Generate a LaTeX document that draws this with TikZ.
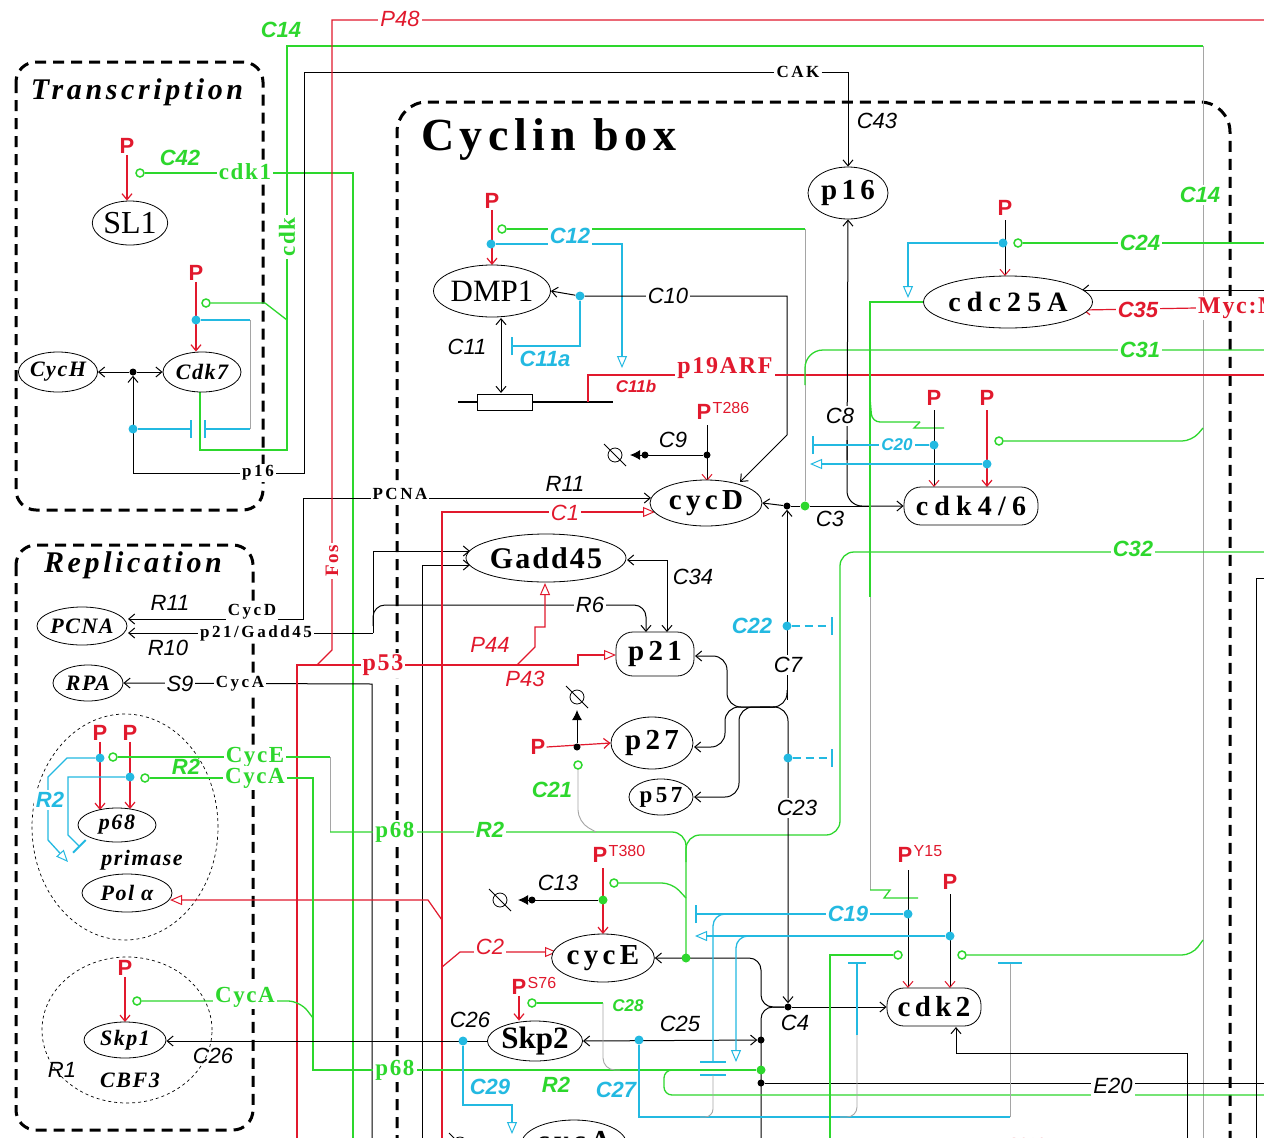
\documentclass[tikz,border=0pt]{standalone}
\usepackage{fontspec}
\setmainfont{Liberation Serif}
\newfontfamily\arial{Liberation Sans}
\newfontfamily\spc[LetterSpace=15]{Liberation Serif}
\newfontfamily\spcw[LetterSpace=22]{Liberation Serif}
\newfontfamily\spct[LetterSpace=12]{Liberation Serif}
\newfontfamily\spcs[LetterSpace=7]{Liberation Serif}
\usetikzlibrary{arrows.meta,shapes.geometric}
\pgfdeclarelayer{back}
\pgfdeclarelayer{wires}
\pgfsetlayers{back,wires,main}
\definecolor{mred}{RGB}{225,25,45}
\definecolor{mgreen}{RGB}{45,215,45}
\definecolor{mcyan}{RGB}{35,185,225}
\definecolor{mgray}{RGB}{165,165,165}
\newcommand\mydeg[2]{\draw[line width=0.8pt] (#1,#2) circle[radius=7pt] (#1-11,#2-11) -- (#1+11,#2+11);}
\newcommand\psup[4]{\node[pp] (#1) at (#2,#3) {P};\node[text=mred,font=\arial\fontsize{16}{16}\selectfont,anchor=north west,inner sep=0pt] (#1s) at ([yshift=1pt]#1.north east) {#4};}
\tikzset{
  ell/.style={draw,ellipse,line width=0.8pt,inner sep=0pt,fill=white},
  rr/.style={draw,rounded corners=17pt,line width=0.8pt,inner sep=0pt,fill=white},
  bl/.style={black,line width=1pt},
  rd/.style={mred,line width=1.2pt},
  gr/.style={mgreen,line width=1.3pt},
  cy/.style={mcyan,line width=1.3pt},
  gy/.style={mgray,line width=0.9pt},
  act/.style={-{Straight Barb[length=6pt,width=10pt]}},
  dact/.style={{Straight Barb[length=6pt,width=10pt]}-{Straight Barb[length=6pt,width=10pt]}},
  pk/.style={black,line width=1pt,-{Straight Barb[length=6pt,width=10pt,color=mred]}},
  tri/.style={-{Triangle[open,length=12pt,width=10pt,line width=1pt,fill=white]}},
  inh/.style={-{Bar[width=18pt,line width=1.8pt]}},
  cdot/.style={circle,fill=mcyan,inner sep=0pt,minimum size=9pt},
  kdot/.style={circle,fill=black,inner sep=0pt,minimum size=7pt},
  gdot/.style={circle,fill=mgreen,inner sep=0pt,minimum size=9pt},
  gc/.style={circle,draw=mgreen,line width=1.5pt,fill=white,inner sep=0pt,minimum size=8pt},
  lk/.style={font=\arial\itshape\fontsize{22}{22}\selectfont,fill=white,inner sep=2pt},
  lg/.style={text=mgreen,font=\arial\bfseries\itshape\fontsize{22}{22}\selectfont,fill=white,inner sep=2pt},
  lc/.style={text=mcyan,font=\arial\bfseries\itshape\fontsize{22}{22}\selectfont,fill=white,inner sep=2pt},
  lr/.style={text=mred,font=\arial\itshape\fontsize{22}{22}\selectfont,fill=white,inner sep=2pt},
  lrb/.style={text=mred,font=\arial\bfseries\itshape\fontsize{22}{22}\selectfont,fill=white,inner sep=2pt},
  pp/.style={text=mred,font=\arial\bfseries\fontsize{22}{22}\selectfont,inner sep=1pt},
  sk/.style={font=\spc\bfseries\fontsize{17}{17}\selectfont,fill=white,inner sep=2pt},
  sg/.style={text=mgreen,font=\spcs\bfseries\fontsize{23}{23}\selectfont,fill=white,inner sep=2pt},
  sr/.style={text=mred,font=\spcs\bfseries\fontsize{24}{24}\selectfont,fill=white,inner sep=2pt},
  nd/.style={font=\spc\bfseries\fontsize{29}{29}\selectfont},
  ni/.style={font=\spcs\bfseries\itshape\fontsize{22}{22}\selectfont},
  zone/.style={line width=3pt,dash pattern=on 11pt off 7pt,rounded corners=20pt}
}
\begin{document}
\begin{tikzpicture}[x=1pt,y=-1pt]
\useasboundingbox (0,0) rectangle (1264,1138);
\begin{pgfonlayer}{back}
\fill[white] (0,0) rectangle (1264,1138);
\end{pgfonlayer}
\begin{scope}
\clip (0,0) rectangle (1264,1138);
% titles
\node[font=\spct\bfseries\itshape\fontsize{30}{30}\selectfont] (tTr) at (137,92) {Transcription};
\node[font=\spct\bfseries\itshape\fontsize{30}{30}\selectfont] (tRe) at (133,565) {Replication};
\node[font=\spct\bfseries\fontsize{46}{46}\selectfont,anchor=west,inner sep=0pt] (tCB) at (421,140) {Cyclin box};
% entities
\node[ell,minimum width=74pt,minimum height=44pt,font=\fontsize{32}{32}\selectfont] (SL1) at (130,223) {SL1};
\node[ell,ni,minimum width=72pt,minimum height=40pt] (CycH) at (58,372) {CycH};
\node[ell,ni,minimum width=78pt,minimum height=40pt] (Cdk7) at (202,372) {Cdk7};
\node[ell,ni,minimum width=90pt,minimum height=38pt] (PCNA) at (82,626) {PCNA};
\node[ell,ni,minimum width=70pt,minimum height=36pt] (RPA) at (88,683) {RPA};
\node[ell,ni,minimum width=78pt,minimum height=34pt] (p68) at (117,825) {p68};
\node[ni] (primase) at (142,860) {primase};
\node[ell,ni,minimum width=90pt,minimum height=38pt] (Pola) at (127,893) {Pol α};
\node[ell,ni,minimum width=82pt,minimum height=36pt] (Skp1) at (125,1040) {Skp1};
\node[ni] (CBF3) at (130,1080) {CBF3};
\node[ell,nd,minimum width=80pt,minimum height=52pt] (p16) at (848,193) {p16};
\node[ell,minimum width=114pt,minimum height=52pt,font=\fontsize{31}{31}\selectfont] (DMP1) at (492,291) {DMP1};
\node[ell,font=\spcw\bfseries\fontsize{28}{28}\selectfont,minimum width=144pt,minimum height=52pt] (cdc) at (1008,302) {cdc25A};
\node[ell,nd,minimum width=112pt,minimum height=46pt] (cycD) at (706,503) {cycD};
\node[rr,font=\spcw\bfseries\fontsize{28}{28}\selectfont,minimum width=134pt,minimum height=38pt] (cdk46) at (971,506) {cdk4/6};
\node[ell,font=\spcs\bfseries\fontsize{30}{30}\selectfont,minimum width=160pt,minimum height=48pt] (Gadd45) at (546,558) {Gadd45};
\node[rr,nd,minimum width=78pt,minimum height=44pt] (p21) at (655,654) {p21};
\node[ell,nd,minimum width=82pt,minimum height=52pt] (p27) at (652,743) {p27};
\node[ell,font=\spc\bfseries\fontsize{23}{23}\selectfont,minimum width=64pt,minimum height=36pt] (p57) at (661,797) {p57};
\node[ell,nd,minimum width=96pt,minimum height=48pt] (cycE) at (603,958) {cycE};
\node[ell,font=\bfseries\fontsize{31}{31}\selectfont,minimum width=84pt,minimum height=40pt] (Skp2) at (535,1041) {Skp2};
\node[rr,nd,minimum width=94pt,minimum height=38pt] (cdk2) at (934,1007) {cdk2};
\node[ell,nd,minimum width=95pt,minimum height=48pt] (cycA) at (574,1144) {cycA};
% labels
\node[sk] (lCAK) at (798,72) {CAK};
\node[lk,fill=none] (lC43) at (877,121) {C43};
\node[lg,fill=none] (lC14a) at (281,30) {C14};
\node[lg] (lC14b) at (1200,195) {C14};
\node[lr] (lP48) at (400,19) {P48};
\node[lg,fill=none] (lC42) at (180,158) {C42};
\node[sg] (lcdk1) at (245,172) {cdk1};
\node[sg,rotate=90] (lcdk) at (287,237) {cdk};
\node[sk] (lp16) at (258,473) {p16};
\node[sk] (lPCNA) at (400,494) {PCNA};
\node[sk] (lCycD) at (252,612) {CycD};
\node[sk] (lp21G) at (256,633) {p21/Gadd45};
\node[lk,fill=none] (lR11a) at (170,603) {R11};
\node[lk,fill=none] (lR10) at (168,648) {R10};
\node[lk] (lS9) at (180,684) {S9};
\node[sk] (lCycA1) at (240,684) {CycA};
\node[sr,rotate=90,font=\spcs\bfseries\fontsize{19}{19}\selectfont] (lFos) at (332,561) {Fos};
\node[sr] (lp53) at (383,665) {p53};
\node[sg] (lCycE) at (255,757) {CycE};
\node[sg] (lCycA2) at (255,778) {CycA};
\node[lg,fill=none] (lR2a) at (186,767) {R2};
\node[lc] (lR2b) at (50,800) {R2};
\node[sg] (lp68a) at (395,832) {p68};
\node[lg] (lR2c) at (490,830) {R2};
\node[sg] (lCycA3) at (245,997) {CycA};
\node[lk,fill=none] (lR1) at (62,1070) {R1};
\node[lk,fill=none] (lC26a) at (213,1056) {C26};
\node[sg] (lp68b) at (395,1070) {p68};
\node[lc] (lC12) at (570,236) {C12};
\node[lk] (lC10) at (668,296) {C10};
\node[lk,fill=none] (lC11) at (467,347) {C11};
\node[lc,fill=none] (lC11a) at (545,359) {C11a};
\node[lrb,fill=none,font=\arial\bfseries\itshape\fontsize{17}{17}\selectfont] (lC11b) at (636,386) {C11b};
\node[sr] (lp19) at (725,368) {p19ARF};
\node[lk,fill=none] (lC9) at (673,440) {C9};
\node[lk,fill=none] (lR11b) at (565,484) {R11};
\node[lr] (lC1) at (565,513) {C1};
\node[lk,fill=none] (lC34) at (693,577) {C34};
\node[lk] (lR6) at (590,605) {R6};
\node[lr,fill=none] (lP44) at (490,645) {P44};
\node[lr,fill=none] (lP43) at (525,679) {P43};
\node[lk,fill=none] (lC3) at (830,519) {C3};
\node[lk] (lC8) at (840,416) {C8};
\node[lc,fill=none] (lC22) at (752,626) {C22};
\node[lk] (lC7) at (788,665) {C7};
\node[lk] (lC23) at (797,808) {C23};
\node[lg,fill=none] (lC21) at (552,790) {C21};
\node[lk,fill=none] (lC13) at (558,883) {C13};
\node[lr] (lC2) at (490,947) {C2};
\node[lc] (lC19) at (848,914) {C19};
\node[lk,fill=none] (lC4) at (795,1023) {C4};
\node[lk,fill=none] (lC25) at (680,1024) {C25};
\node[lk,fill=none] (lC26b) at (470,1020) {C26};
\node[lg,fill=none,font=\arial\bfseries\itshape\fontsize{17}{17}\selectfont] (lC28) at (628,1006) {C28};
\node[lc,fill=none] (lC29) at (490,1087) {C29};
\node[lg,fill=none] (lR2d) at (556,1085) {R2};
\node[lc,fill=none] (lC27) at (616,1090) {C27};
\node[lk] (lE20) at (1113,1086) {E20};
\node[lg] (lC24) at (1140,243) {C24};
\node[lrb] (lC35) at (1138,310) {C35};
\node[sr,anchor=west] (lMyc) at (1196,308) {Myc:Max};
\node[lg] (lC31) at (1140,350) {C31};
\node[lg] (lC32) at (1133,549) {C32};
\node[lc,font=\arial\bfseries\itshape\fontsize{17}{17}\selectfont] (lC20) at (897,445) {C20};
% phosphates
\node[pp] (pSL1) at (127,146) {P};
\node[pp] (pC7) at (196,273) {P};
\node[pp] (p68a) at (100,733) {P};
\node[pp] (p68b) at (130,733) {P};
\node[pp] (pSk1) at (125,968) {P};
\node[pp] (pDMP) at (492,201) {P};
\psup{pT}{704}{412}{T286}
\node[pp] (pCdc) at (1005,208) {P};
\node[pp] (pK4a) at (934,398) {P};
\node[pp] (pK4b) at (987,398) {P};
\node[pp] (p27P) at (538,747) {P};
\psup{pE}{600}{855}{T380}
\psup{pS}{519}{987}{S76}
\psup{pY}{905}{855}{Y15}
\node[pp] (pK2b) at (950,882) {P};
\node[pp] (pB1) at (935,1148) {P};
\psup{pB2}{1000}{1148}{S216}
% dots
\node[kdot] (jH) at (133,372) {};
\node[cdot] (cC7) at (196,320) {};
\node[gc] (gC7) at (206,303) {};
\node[cdot] (cH) at (133,429) {};
\node[gc] (g42) at (140,173) {};
\node[cdot] (c68a) at (100,758) {};
\node[cdot] (c68b) at (130,777) {};
\node[gc] (g68a) at (113,757) {};
\node[gc] (g68b) at (145,778) {};
\node[gc] (gSk1) at (137,1001) {};
\node[gc] (gDMP) at (502,229) {};
\node[cdot] (cDMP) at (491,244) {};
\node[cdot] (c10) at (580,296) {};
\node[kdot] (j9) at (707,455) {};
\node[kdot] (k9) at (645,455) {};
\node[kdot] (jD) at (787,506) {};
\node[gdot] (gD) at (805,506) {};
\node[cdot] (c22) at (787,626) {};
\node[cdot] (c23) at (788,758) {};
\node[cdot] (cCdc) at (1003,243) {};
\node[gc] (gCdc) at (1018,243) {};
\node[cdot] (cK4a) at (934,445) {};
\node[cdot] (cK4b) at (987,464) {};
\node[gc] (gK4) at (999,441) {};
\node[kdot] (j27) at (577,747) {};
\node[gc] (g21) at (578,765) {};
\node[gdot] (gE) at (603,900) {};
\node[gc] (gEc) at (614,883) {};
\node[kdot] (k13) at (532,900) {};
\node[gdot] (gE2) at (686,958) {};
\node[kdot] (jC4) at (788,1007) {};
\node[kdot] (jS) at (761,1040) {};
\node[gdot] (gS) at (761,1070) {};
\node[kdot] (jE) at (761,1083) {};
\node[cdot] (c26) at (463,1041) {};
\node[cdot] (c25) at (639,1040) {};
\node[gc] (gSk2) at (532,1003) {};
\node[cdot] (c19) at (908,914) {};
\node[cdot] (cK2b) at (950,936) {};
\node[gc] (gK2a) at (898,955) {};
\node[gc] (gK2b) at (962,955) {};
\mydeg{615}{455}
\mydeg{500}{900}
\mydeg{577}{697}
\mydeg{460}{1144}
\end{scope}
\begin{pgfonlayer}{wires}
\clip (0,0) rectangle (1264,1138);
% compartments
\draw[zone] (16,62) rectangle (263,510);
\draw[zone] (16,545) rectangle (253,1130);
\draw[zone,rounded corners=30pt] (397,1200) -- (397,102) -- (1230,102) -- (1230,1200);
\draw[dashed,line width=0.7pt] (125,827) ellipse[x radius=93pt,y radius=113pt];
\draw[dashed,line width=0.7pt] (127,1030) ellipse[x radius=85pt,y radius=73pt];
% transcription
\draw[rd,act] (pSL1.south) -- (pSL1.south |- SL1.north);
\draw[gr] (g42) -- (353,173) -- (353,1140);
\draw[bl,act] (jH) -- (CycH);
\draw[bl,act] (jH) -- (Cdk7);
\draw[rd,act] (pC7.south) -- (pC7.south |- Cdk7.north);
\draw[gr] (gC7) -- (265,303) -- (287,320);
\draw[cy] (cC7) -- (250,320);
\draw[gy] (250,320) -- (250,429);
\draw[cy,inh] (250,429) -- (204,429);
\draw[cy,inh] (cH) -- (192,429);
\draw[gr] (200,391) -- (200,450) -- (287,450) -- (287,46) -- (1203,46);
\draw[gy] (1203,46) -- (1203,1140);
\draw[bl,act] (lp16) -- (133,473) -- (jH);
\draw[bl] (lp16) -- (304,473) -- (304,72) -- (lCAK);
\draw[bl,act] (lCAK) -| (p16.north);
% replication
\draw[bl,dact] (128,619) -- (303,619) -- (303,498) -- (651,498);
\draw[bl,act] (373,633) -- (128,633);
\draw[bl,act] (373,633) -- (373,551) -- (470,551);
\draw[bl,act,rounded corners=12pt] (373,626) -- (373,605) -- (646,605) -- (646,632);
\draw[bl,act] (422,1140) -- (422,565) -- (470,565);
\draw[bl,dact] (627,560) -- (667,560) -- (667,632);
\draw[bl,act] (372,1140) -- (372,684) -- (RPA.east);
\draw[rd] (1264,20) -- (332,20) -- (332,650) -- (317,665);
\draw[rd,tri] (297,1140) -- (297,665) -- (578,665) -- (578,655) -- (616,655);
\draw[rd,tri] (517,665) -- (535,647) -- (535,627) -- (545,627) -- (545,583);
\draw[rd,tri] (442,920) -- (428,900) -- (170,900);
\draw[rd,tri] (442,1140) -- (442,512) -- (655,512);
\draw[rd,tri] (442,967) -- (460,952) -- (557,952);
\draw[rd,act] (p68a.south) -- (100,810);
\draw[rd,act] (p68b.south) -- (130,809);
\draw[gr] (g68a) -- (330,757);
\draw[gy] (330,757) -- (330,832);
\draw[gr,rounded corners=14pt] (330,832) -- (686,832) -- (686,958);
\draw[gr,rounded corners=14pt] (686,862) -- (686,835) -- (840,835) -- (840,552) -- (1264,552);
\draw[gr] (g68b) -- (313,778) -- (313,1070) -- (gS);
\draw[cy,tri] (c68a) -- (67,758) -- (48,777) -- (48,840) -- (68,862);
\draw[cy,inh] (c68b) -- (68,777) -- (68,835) -- (80,847);
\draw[rd,act] (pSk1.south) -- (125,1022);
\draw[gr,rounded corners=12pt] (gSk1) -- (300,1001) -- (313,1018);
\draw[bl,act] (Skp2.west) -- (Skp2.west -| Skp1.east);
\draw[cy,tri] (c26) -- (463,1105) -- (512,1105) -- (512,1134);
% DMP1
\draw[rd,act] (pDMP.south) -- (492,265);
\draw[gr] (gDMP) -- (805,229);
\draw[gy] (805,229) -- (gD);
\draw[cy,tri] (cDMP) -- (622,244) -- (622,368);
\draw[bl,act] (c10) -- (DMP1.east);
\draw[bl,act] (c10) -- (787,296) -- (787,435) -- (740,482);
\draw[cy,inh] (c10) -- (580,346) -- (511,346);
\draw[black,line width=1.6pt] (458,402) -- (477,402) (532,402) -- (613,402);
\draw[rd] (1264,375) -- (588,375) -- (588,402);
\draw[line width=1pt,fill=white] (477,394) rectangle (532,410);
\draw[bl,dact] (501,393) -- (501,318);
\draw[gr,rounded corners=18pt] (1264,350) -- (805,350) -- (805,385);
% cycD
\draw[pk] (707,425) -- (707,481);
\draw[bl,-{Latex[length=10pt,width=10pt]}] (j9) -- (630,455);
\draw[bl,act] (847,460) -- (p16.south);
\draw[bl,act,rounded corners=15pt] (847,440) -- (847,506) -- (cdk46.west);
\draw[bl,act] (jD) -- (cycD.east);
\draw[bl] (jD) -- (gD) -- (870,506);
\draw[bl,act] (787,700) -- (jD);
\draw[cy,dash pattern=on 8pt off 5pt,inh] (c22) -- (833,626);
\draw[bl,act,rounded corners=14pt] (787,690) -- (787,707) -- (727,707) -- (727,656) -- (695,656);
\draw[bl,act,rounded corners=14pt] (775,707) -- (725,707) -- (725,747) -- (694,747);
\draw[bl,act,rounded corners=14pt] (770,707) -- (739,707) -- (739,797) -- (694,797);
\draw[bl,act,rounded corners=14pt] (760,707) -- (788,707) -- (jC4);
\draw[cy,dash pattern=on 8pt off 5pt,inh] (c23) -- (833,758);
% C4 / cycE / Skp2
\draw[bl,act] (jC4) -- (cdk2.west);
\draw[bl,act,rounded corners=12pt] (jC4) -- (761,1007) -- (761,958) -- (cycE.east);
\draw[bl,rounded corners=12pt] (jC4) -- (761,1007) -- (761,1140);
\draw[bl,dact] (Skp2.east) -- (jS);
\draw[bl] (jE) -- (1264,1083);
\draw[gr,rounded corners=8pt] (684,1070) -- (664,1070) -- (664,1095) -- (1264,1095);
\draw[cy] (c25) -- (639,1117) -- (1010,1117);
\draw[gy] (1010,1117) -- (1010,963);
\draw[cy,line width=1.8pt] (998,963) -- (1022,963);
\draw[cy,inh] (857,1035) -- (857,962);
\draw[gy,rounded corners=10pt] (857,1035) -- (857,1117) -- (840,1117);
\draw[gr] (gK2a) -- (830,955) -- (830,1140);
\draw[gr,rounded corners=10pt] (gK2b) -- (1192,955) -- (1203,940);
\draw[rd,act] (pS.south) -- (pS.south |- Skp2.north);
\draw[gr] (gSk2) -- (603,1003);
\draw[gy,rounded corners=12pt] (603,1003) -- (603,1070) -- (620,1070);
\draw[rd,act] (603,868) -- (603,934);
\draw[bl,-{Latex[length=10pt,width=10pt]}] (gE) -- (518,900);
\draw[gr,rounded corners=10pt] (gEc) -- (672,883) -- (686,898);
\draw[gy,rounded corners=12pt] (g21) -- (578,822) -- (596,832);
\draw[rd,act] (p27P.east) -- (p27.west);
\draw[bl,-{Latex[length=10pt,width=10pt]}] (j27) -- (577,710);
% cdc25A
\draw[pk] (1005,220) -- (1005,276);
\draw[gr] (gCdc) -- (1264,243);
\draw[cy,tri] (cCdc) -- (908,243) -- (908,298);
\draw[bl,act] (1264,290) -- (1082,290);
\draw[rd,act] (lMyc.west) -- (1083,310);
\draw[gr] (cdc.west) -- (870,302) -- (870,597);
\draw[gy] (870,597) -- (870,890);
\draw[gr] (870,890) -- (890,890) -- (884,898) -- (918,898);
\draw[gr,rounded corners=8pt] (870,398) -- (872,422) -- (920,422);
\draw[gr] (920,422) -- (914,428) -- (944,428);
% cdk4/6
\draw[pk] (934,410) -- (934,487);
\draw[rd,act] (987,410) -- (987,487);
\draw[cy,inh] (cK4a) -- (812,445);
\draw[cy,tri] (cK4b) -- (810,464);
\draw[gr,rounded corners=10pt] (gK4) -- (1192,441) -- (1203,428);
% cdk2
\draw[pk] (908,870) -- (908,988);
\draw[pk] (950,894) -- (950,988);
\draw[cy,inh] (c19) -- (695,914);
\draw[cy,rounded corners=12pt] (735,914) -- (713,914) -- (713,1062);
\draw[cy,line width=1.8pt] (700,1062) -- (726,1062) (700,1075) -- (726,1075);
\draw[gy,rounded corners=8pt] (713,1075) -- (713,1117) -- (700,1117);
\draw[cy,tri] (cK2b) -- (695,936);
\draw[cy,tri,rounded corners=12pt] (760,936) -- (736,936) -- (736,1062);
\draw[bl,act] (1187,1140) -- (1187,1053) -- (956,1053) -- (956,1027);
\draw[bl] (1256,1140) -- (1256,578) -- (1264,578);
\end{pgfonlayer}
\end{tikzpicture}
\end{document}
